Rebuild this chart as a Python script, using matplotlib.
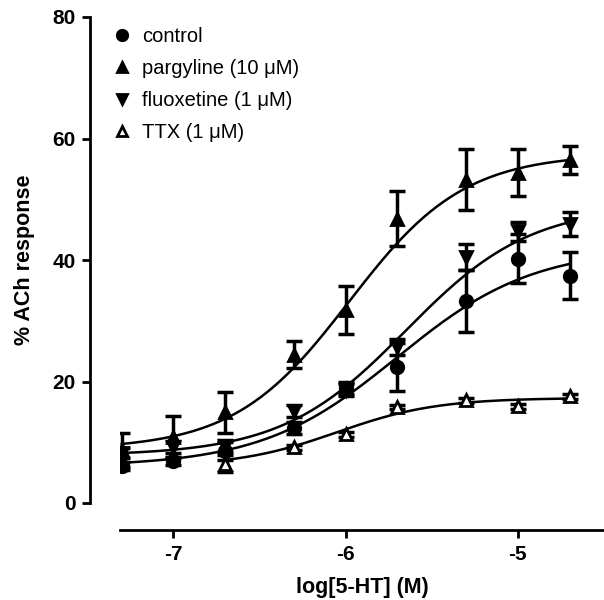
import numpy as np
import matplotlib
matplotlib.use('Agg')
import matplotlib.pyplot as plt

plt.rcParams['font.family'] = ['Liberation Sans', 'DejaVu Sans']
plt.rcParams['axes.unicode_minus'] = False

# log concentration of 5-HT
log_conc = [-7.3, -7.0, -6.7, -6.3, -6.0, -5.7, -5.3, -5.0, -4.7]
log_conc_ttx = [-6.7, -6.3, -6.0, -5.7, -5.3, -5.0, -4.7]

control = [6.1, 6.9, 8.5, 12.4, 19.0, 22.4, 33.3, 40.2, 37.4]
control_err = [0.6, 0.6, 1.5, 1.0, 1.0, 4.0, 5.1, 4.0, 3.9]

pargyline = [8.7, 10.9, 14.9, 24.4, 31.8, 46.8, 53.2, 54.4, 56.4]
pargyline_err = [2.8, 3.5, 3.3, 2.2, 4.0, 4.5, 5.0, 3.8, 2.3]

fluoxetine = [8.2, 9.2, 9.4, 15.2, 18.6, 25.7, 40.5, 44.7, 45.9]
fluoxetine_err = [0.8, 1.0, 1.0, 1.0, 1.0, 1.3, 2.2, 1.5, 2.0]

ttx = [6.5, 9.2, 11.3, 15.8, 16.9, 15.9, 17.6]
ttx_err = [1.4, 0.4, 0.4, 0.4, 0.4, 0.4, 0.4]

# sigmoidal fit parameters (bottom, top, logEC50, hill slope)
fit_control = (6.0, 42.0, -5.70, 1.1)
fit_pargyline = (8.8, 57.5, -5.98, 1.3)
fit_fluoxetine = (7.8, 49.0, -5.65, 1.2)
fit_ttx = (6.0, 17.3, -6.05, 1.5)


def sigmoid(x, p):
    bottom, top, ec50, hill = p
    return bottom + (top - bottom) / (1 + 10 ** ((ec50 - x) * hill))


fig = plt.figure(figsize=(6.04, 6.00), dpi=100)
ax = fig.add_axes([120 / 604, 97 / 600, 484 / 604, 486 / 600])

series = [
    ('control', log_conc, control, control_err, fit_control, 'o', 'black'),
    ('pargyline (10 μM)', log_conc, pargyline, pargyline_err, fit_pargyline, '^', 'black'),
    ('fluoxetine (1 μM)', log_conc, fluoxetine, fluoxetine_err, fit_fluoxetine, 'v', 'black'),
    ('TTX (1 μM)', log_conc_ttx, ttx, ttx_err, fit_ttx, '^', 'white'),
]

handles = []
for label, xs, ys, errs, fit, mk, fc in series:
    xf = np.linspace(xs[0], xs[-1], 200)
    ax.plot(xf, sigmoid(xf, fit), color='black', lw=1.8, zorder=2)
    ax.errorbar(xs, ys, yerr=errs, fmt='none', ecolor='black',
                elinewidth=2.5, capsize=6, capthick=2.5, zorder=3)
    ax.plot(xs, ys, linestyle='none', marker=mk, markersize=9,
            markerfacecolor=fc, markeredgecolor='black', markeredgewidth=2, zorder=4)
    h, = ax.plot([], [], linestyle='none', marker=mk, markersize=7.5,
                 markerfacecolor=fc, markeredgecolor='black', markeredgewidth=2)
    handles.append((h, label))

ax.set_xlim(-7.31, -4.5)
ax.set_ylim(0, 80)
ax.set_xticks([-7, -6, -5])
ax.set_yticks([0, 20, 40, 60, 80])

for s in ['top', 'right']:
    ax.spines[s].set_visible(False)
ax.spines['left'].set_position(('outward', 21.6))
ax.spines['bottom'].set_position(('outward', 19.4))
ax.spines['left'].set_linewidth(2)
ax.spines['bottom'].set_linewidth(2)
ax.tick_params(width=2, length=5.5, labelsize=15, pad=5)
for t in ax.get_xticklabels() + ax.get_yticklabels():
    t.set_fontweight('bold')

ax.set_xlabel('log[5-HT] (M)', fontsize=15.5, fontweight='bold', labelpad=10)
ax.set_ylabel('% ACh response', fontsize=15.5, fontweight='bold', labelpad=12)

ax.legend([h for h, _ in handles], [l for _, l in handles], loc='upper left',
          frameon=False, fontsize=14.5, handlelength=0.8, handletextpad=0.6,
          labelspacing=0.65, borderaxespad=0, borderpad=0,
          bbox_to_anchor=(-0.0124, 0.98))

fig.savefig('out.png', dpi=100)
